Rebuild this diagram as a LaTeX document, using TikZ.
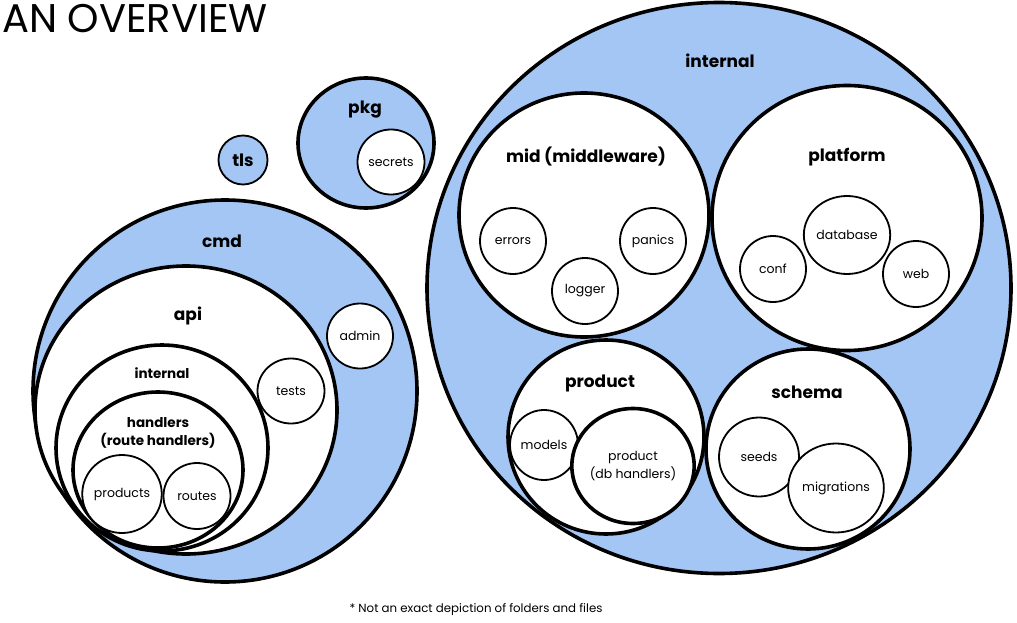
\documentclass[tikz,border=0pt]{standalone}
\usepackage{fontspec}
\setmainfont{Poppins}
\usetikzlibrary{shapes.geometric}
\definecolor{pblue}{RGB}{164,198,244}
\tikzset{
  ov/.style 2 args={ellipse, draw=black, inner sep=0pt, minimum width=#1pt, minimum height=#2pt},
  bigc/.style={line width=3.6pt},
  smallc/.style={line width=1.8pt},
  bluef/.style={fill=pblue},
  whitef/.style={fill=white},
  biglab/.style={font=\fontsize{17}{19}\selectfont\bfseries, align=center},
  midlab/.style={font=\fontsize{13.5}{18}\selectfont\bfseries, align=center},
  smlab/.style={font=\fontsize{12.5}{18}\selectfont, align=center},
}
\begin{document}
\begin{tikzpicture}[x=1pt,y=-1pt]
\useasboundingbox (0,0) rectangle (1017,623);
% title
\node[anchor=base west, inner sep=0pt, font=\fontsize{40}{44}\selectfont] (title) at (2,33) {AN OVERVIEW};
% ---------- left cluster: cmd ----------
\node[ov={384}{382}, bigc, bluef] (cmd) at (225,391) {};
\node[biglab] (cmdl) at (222,241) {cmd};
\node[ov={302}{288}, bigc, whitef] (api) at (186,410) {};
\node[biglab] (apil) at (188,316) {api};
\node[ov={212}{206}, bigc, whitef] (lint) at (162,448) {};
\node[midlab] (lintl) at (162,373) {internal};
\node[ov={170}{156}, bigc, whitef] (hand) at (158,470) {};
\node[midlab] (handl) at (158,433) {handlers\\(route handlers)};
\node[ov={78}{78}, smallc, whitef, smlab] (products) at (122,494) {products};
\node[ov={67}{66}, smallc, whitef, smlab] (routes) at (197,496) {routes};
\node[ov={67}{65}, smallc, whitef, smlab] (tests) at (291,391) {tests};
\node[ov={66}{65}, smallc, whitef, smlab] (admin) at (360,336) {admin};
% ---------- tls, pkg ----------
\node[ov={49}{49}, smallc, bluef, biglab] (tls) at (243,160) {tls};
\node[ov={136}{130}, bigc, bluef] (pkg) at (366,143) {};
\node[biglab] (pkgl) at (365,110) {pkg};
\node[ov={67}{65}, smallc, whitef, smlab] (secrets) at (391,162) {secrets};
% ---------- right cluster: internal ----------
\node[ov={584}{571}, bigc, bluef] (rint) at (719,288) {};
\node[biglab] (rintl) at (720,61) {internal};
\node[ov={250}{244}, bigc, whitef] (mid) at (584,215) {};
\node[biglab] (midl) at (586,157) {mid (middleware)};
\node[ov={66}{66}, smallc, whitef, smlab] (errors) at (513,241) {errors};
\node[ov={66}{66}, smallc, whitef, smlab] (panics) at (653,241) {panics};
\node[ov={66}{66}, smallc, whitef, smlab] (logger) at (585,291) {logger};
\node[ov={270}{265}, bigc, whitef] (plat) at (847,218) {};
\node[biglab] (platl) at (847,157) {platform};
\node[ov={66}{66}, smallc, whitef, smlab] (conf) at (773,269) {conf};
\node[ov={78}{78}, smallc, whitef, smlab] (database) at (847,235) {database};
\node[ov={66}{66}, smallc, whitef, smlab] (web) at (916,274) {web};
\node[ov={196}{194}, bigc, whitef] (prod) at (606,437) {};
\node[biglab] (prodl) at (600,383) {product};
\node[ov={68}{70}, smallc, whitef, smlab] (models) at (544,445) {models};
\node[ov={114}{115}, bigc, whitef, smlab] (proddb) at (633,466) {product\\(db handlers)};
\node[ov={204}{200}, bigc, whitef] (schema) at (808,449) {};
\node[biglab] (schemal) at (807,392) {schema};
\node[ov={80}{79}, smallc, whitef, smlab] (seeds) at (759,457) {seeds};
\node[ov={88}{89}, smallc, whitef, smlab] (migr) at (836,488) {migrations};
% footnote
\node[font=\fontsize{11.8}{13}\selectfont] (note) at (476,610) {* Not an exact depiction of folders and files};
\end{tikzpicture}
\end{document}
